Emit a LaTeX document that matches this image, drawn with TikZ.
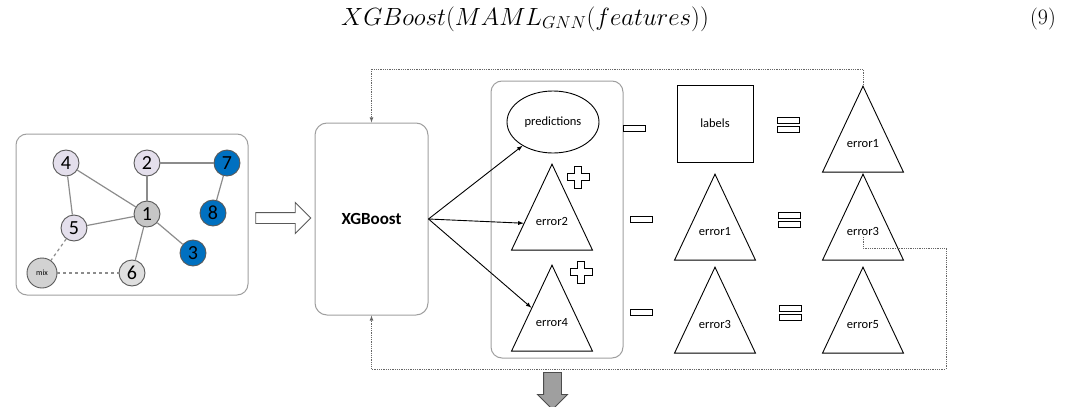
\documentclass[tikz,border=0pt]{standalone}
\usepackage{fontspec}
\newfontfamily\calibri{Carlito}
\usetikzlibrary{positioning, calc, arrows.meta, shapes.geometric, shapes.arrows}

\definecolor{lav}{HTML}{E4DFEC}
\definecolor{nblue}{HTML}{0070C0}
\definecolor{edgegray}{HTML}{8C8C8C}

\begin{document}
\begin{tikzpicture}[x=1pt, y=-1pt, >=latex, line width=0.9pt]
\tikzset{
  panel/.style={draw=gray!75, rounded corners=11pt, line width=1pt},
  gnode/.style={draw=gray!70!black, circle, minimum size=26pt, inner sep=0pt, font=\calibri\fontsize{20}{20}\selectfont},
  gedge/.style={draw=edgegray, line width=1.2pt},
  tri/.style={draw, isosceles triangle, isosceles triangle stretches, shape border rotate=90, minimum width=81pt, minimum height=86pt, inner sep=0pt, anchor=apex},
  txt/.style={font=\calibri\fontsize{12.5}{12.5}\selectfont, inner sep=1pt},
  minusbar/.style={draw, minimum width=22pt, minimum height=6pt, inner sep=0pt, line width=0.8pt},
  fb/.style={densely dotted, draw=gray!80!black, line width=0.8pt},
  hollowplus/.pic={\draw[line width=0.9pt] (-3.5,-11) -- (3.5,-11) -- (3.5,-3.5) -- (11,-3.5) -- (11,3.5) -- (3.5,3.5) -- (3.5,11) -- (-3.5,11) -- (-3.5,3.5) -- (-11,3.5) -- (-11,-3.5) -- (-3.5,-3.5) -- cycle;}
}
\useasboundingbox (0,0) rectangle (1072,407);

% formula
\node (eq) at (525,19) {\fontsize{24}{28}\selectfont $XGBoost(MAML_{GNN}(features))$};
\node (eqno) at (1043,19) {\fontsize{22}{26}\selectfont (9)};

% graph panel
\node[panel, minimum width=232pt, minimum height=161pt] (graph) at (132,214.5) {};
\node[gnode, fill=lav] (n4) at (66,163) {4};
\node[gnode, fill=lav] (n2) at (147,163) {2};
\node[gnode, fill=nblue] (n7) at (227,163) {7};
\node[gnode, fill=gray!45] (n1) at (147,214) {1};
\node[gnode, fill=nblue] (n8) at (213,213) {8};
\node[gnode, fill=lav] (n5) at (74,228) {5};
\node[gnode, fill=nblue] (n3) at (193,253) {3};
\node[gnode, fill=gray!25] (n6) at (132,273) {6};
\node[gnode, fill=gray!35, minimum size=30pt, font=\calibri\fontsize{8}{8}\selectfont] (mix) at (42,273) {mix};

\draw[gedge] (n4) -- (n5);
\draw[gedge] (n4) -- (n1);
\draw[gedge] (n2) -- (n1);
\draw[gedge] (n2) -- (n7);
\draw[gedge] (n7) -- (n8);
\draw[gedge] (n5) -- (n1);
\draw[gedge] (n1) -- (n3);
\draw[gedge] (n1) -- (n6);
\draw[gedge, dashed] (n5) -- (mix);
\draw[gedge, dashed] (mix) -- (n6);

% hollow arrow
\node[single arrow, draw=gray!70!black, fill=white, minimum height=55pt, inner sep=5pt, single arrow head extend=10pt] (into) at (280.5,218) {};

% XGBoost
\node[panel, rounded corners=12pt, minimum width=113pt, minimum height=192pt, font=\calibri\bfseries\fontsize{17}{17}\selectfont] (xgb) at (371.5,219) {XGBoost};

% middle panel
\node[panel, minimum width=132pt, minimum height=277pt] (mid) at (557,219.5) {};
\node[draw, ellipse, minimum width=92pt, minimum height=62pt, txt] (pred) at (553,122) {predictions};
\node[tri] (p2) at (552,163) {};
\node[txt] (p2t) at ($(p2.apex)!.667!(p2.lower side)$) {error2};
\node[tri] (p4) at (552,264) {};
\node[txt] (p4t) at ($(p4.apex)!.667!(p4.lower side)$) {error4};
\pic at (578,177) {hollowplus};
\pic at (581,272) {hollowplus};

\draw[->] (xgb.east) -- (pred);
\draw[->] (xgb.east) -- (p2);
\draw[->] (xgb.east) -- (p4);

% minus column
\node[minusbar] (mi1) at (634,128) {};
\node[minusbar] (mi2) at (641,219) {};
\node[minusbar] (mi3) at (641.5,312) {};

% middle column
\node[draw, minimum width=76pt, minimum height=77pt, txt] (lab) at (715,123.5) {labels};
\node[tri] (m2) at (715,173) {};
\node[txt] (m2t) at ($(m2.apex)!.667!(m2.lower side)$) {error1};
\node[tri] (m3) at (715,266) {};
\node[txt] (m3t) at ($(m3.apex)!.667!(m3.lower side)$) {error3};

% equal signs
\node[minusbar] (eq1a) at (788.5,120) {};
\node[minusbar] (eq1b) at (788.5,129) {};
\node[minusbar] (eq2a) at (789.5,215) {};
\node[minusbar] (eq2b) at (789.5,224) {};
\node[minusbar] (eq3a) at (790,308.5) {};
\node[minusbar] (eq3b) at (790,317.5) {};

% right column
\node[tri] (r1) at (863,85) {};
\node[txt] (r1t) at ($(r1.apex)!.667!(r1.lower side)$) {error1};
\node[tri] (r2) at (863,173) {};
\node[txt] (r2t) at ($(r2.apex)!.667!(r2.lower side)$) {error3};
\node[tri] (r3) at (863,266) {};
\node[txt] (r3t) at ($(r3.apex)!.667!(r3.lower side)$) {error5};

% feedback loops
\draw[fb, ->] (r1.apex) -- ++(0,-16) -| (xgb.north);
\draw[fb, ->] (r2t.south) -- ++(0,11) -| ++(83,121) -| (xgb.south);

% output arrow
\node[single arrow, shape border rotate=270, draw=gray!60!black, fill=gray!75, minimum height=37pt, inner sep=8.5pt, single arrow head extend=6pt] (out) at (552.5,386.5) {};

\end{tikzpicture}
\end{document}
